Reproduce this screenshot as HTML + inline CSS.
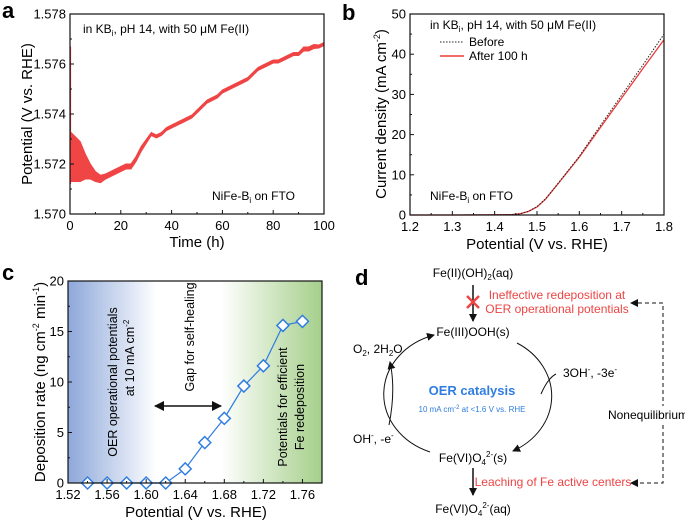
<!DOCTYPE html>
<html><head><meta charset="utf-8">
<style>
html,body{margin:0;padding:0;background:#fff;}
svg{display:block;font-family:"Liberation Sans",Arial,sans-serif;}
</style></head>
<body>
<svg id="fig" width="685" height="523" viewBox="0 0 685 523" xmlns="http://www.w3.org/2000/svg">
<defs>
  <linearGradient id="bg-c" x1="0" x2="1" y1="0" y2="0">
    <stop offset="0" stop-color="#8ea8da"/>
    <stop offset="0.35" stop-color="#ffffff"/>
    <stop offset="0.6" stop-color="#ffffff"/>
    <stop offset="1" stop-color="#a5cf8a"/>
  </linearGradient>
  <marker id="ah" markerWidth="8" markerHeight="8" refX="7" refY="4" orient="auto" markerUnits="userSpaceOnUse">
    <path d="M0,0 L8,4 L0,8 Z" fill="#111"/>
  </marker>
  <marker id="ahs" markerWidth="10" markerHeight="10" refX="9" refY="5" orient="auto-start-reverse" markerUnits="userSpaceOnUse">
    <path d="M0,0 L10,5 L0,10 Z" fill="#111"/>
  </marker>
</defs>
<g id="pa">
  <text x="2" y="18" font-size="22" font-weight="bold">a</text>
  <text x="197" y="247" font-size="15" text-anchor="middle">Time (h)</text>
  <text transform="translate(32,114) rotate(-90)" font-size="15" text-anchor="middle">Potential (V vs. RHE)</text>
  <text x="83" y="33" font-size="12">in KB<tspan font-size="8" dy="3">i</tspan><tspan dy="-3">, pH 14, with 50 μM Fe(II)</tspan></text>
  <text x="212" y="200" font-size="12">NiFe-B<tspan font-size="8" dy="3">i</tspan><tspan dy="-3"> on FTO</tspan></text>
</g>
<g id="pb">
  <text x="342" y="20" font-size="22" font-weight="bold">b</text>
  <text x="537" y="249" font-size="15" text-anchor="middle">Potential (V vs. RHE)</text>
  <text transform="translate(386,114) rotate(-90)" font-size="15" text-anchor="middle">Current density (mA cm<tspan font-size="9" dy="-6">-2</tspan><tspan dy="6">)</tspan></text>
  <text x="430" y="29" font-size="12">in KB<tspan font-size="8" dy="3">i</tspan><tspan dy="-3">, pH 14, with 50 μM Fe(II)</tspan></text>
  <line x1="440" x2="464" y1="42" y2="42" stroke="#222" stroke-dasharray="1.5,1.5"/>
  <text x="469" y="46" font-size="12">Before</text>
  <line x1="440" x2="464" y1="56" y2="56" stroke="#ee3a3a" stroke-width="1.5"/>
  <text x="469" y="60" font-size="12">After 100 h</text>
  <text x="430" y="200" font-size="12">NiFe-B<tspan font-size="8" dy="3">i</tspan><tspan dy="-3"> on FTO</tspan></text>
</g>
<g id="pc">
  <rect x="68" y="281" width="254" height="202" fill="url(#bg-c)"/>
  <text transform="translate(117,382) rotate(-90)" font-size="12.5" text-anchor="middle">OER operational potentials</text>
  <text transform="translate(134,358) rotate(-90)" font-size="12.5" text-anchor="middle">at 10 mA cm<tspan font-size="8" dy="-5">-2</tspan></text>
  <text transform="translate(194,337) rotate(-90)" font-size="12.5" text-anchor="middle">Gap for self-healing</text>
  <line x1="155" x2="221" y1="406" y2="406" stroke="#111" stroke-width="1.5" marker-start="url(#ahs)" marker-end="url(#ahs)"/>
  <text transform="translate(287,407) rotate(-90)" font-size="12.5" text-anchor="middle">Potentials for efficient</text>
  <text transform="translate(304,407) rotate(-90)" font-size="12.5" text-anchor="middle">Fe redeposition</text>
  <text x="2" y="280" font-size="22" font-weight="bold">c</text>
  <text x="196" y="517" font-size="15" text-anchor="middle">Potential (V vs. RHE)</text>
  <text transform="translate(45,382) rotate(-90)" font-size="15" text-anchor="middle">Deposition rate (ng cm<tspan font-size="9" dy="-6">-2</tspan><tspan dy="6"> min</tspan><tspan font-size="9" dy="-6">-1</tspan><tspan dy="6">)</tspan></text>
</g>
<g id="pd">
  <text x="355" y="285" font-size="22" font-weight="bold">d</text>
  <text x="473" y="277" font-size="12" text-anchor="middle">Fe(II)(OH)<tspan font-size="8" dy="3">2</tspan><tspan dy="-3">(aq)</tspan></text>
  <line x1="473" y1="285" x2="473" y2="321" stroke="#111" stroke-width="1.5" marker-end="url(#ah)"/>
  <g stroke="#ee4444" stroke-width="2.5">
    <line x1="467" y1="296" x2="479" y2="308"/><line x1="479" y1="296" x2="467" y2="308"/>
  </g>
  <text x="557" y="299" font-size="12" fill="#ee4444" text-anchor="middle">Ineffective redeposition at</text>
  <text x="557" y="313" font-size="12" fill="#ee4444" text-anchor="middle">OER operational potentials</text>
  <text x="473" y="336" font-size="12" text-anchor="middle">Fe(III)OOH(s)</text>
  <path d="M517,343 A72,62 0 0 1 513,451" fill="none" stroke="#111" stroke-width="1" marker-end="url(#ah)"/>
  <path d="M430,452 A72,62 0 0 1 434,335" fill="none" stroke="#111" stroke-width="1" marker-end="url(#ah)"/>
  <path d="M541,394 Q548,378 556,374" fill="none" stroke="#111" stroke-width="1"/>
  <text x="563" y="377" font-size="12">3OH<tspan font-size="8" dy="-5">-</tspan><tspan dy="5">, -3e</tspan><tspan font-size="8" dy="-5">-</tspan></text>
  <path d="M389,425 Q396,390 390,362" fill="none" stroke="#111" stroke-width="1" marker-end="url(#ah)"/>
  <text x="353" y="353" font-size="12">O<tspan font-size="8" dy="3">2</tspan><tspan dy="-3">, 2H</tspan><tspan font-size="8" dy="3">2</tspan><tspan dy="-3">O</tspan></text>
  <text x="353" y="443" font-size="12">OH<tspan font-size="8" dy="-5">-</tspan><tspan dy="5">, -e</tspan><tspan font-size="8" dy="-5">-</tspan></text>
  <text x="472" y="395" font-size="13" font-weight="bold" fill="#2f7de1" text-anchor="middle">OER catalysis</text>
  <text x="472" y="412" font-size="8" fill="#2f7de1" text-anchor="middle">10 mA cm<tspan font-size="6" dy="-3">-2</tspan><tspan dy="3"> at &lt;1.6 V vs. RHE</tspan></text>
  <text x="473" y="462" font-size="12" text-anchor="middle">Fe(VI)O<tspan font-size="8" dy="3">4</tspan><tspan font-size="8" dy="-8">2-</tspan><tspan dy="5">(s)</tspan></text>
  <line x1="473" y1="468" x2="473" y2="495" stroke="#111" stroke-width="1.5" marker-end="url(#ah)"/>
  <text x="553" y="486" font-size="12" fill="#ee4444" text-anchor="middle">Leaching of Fe active centers</text>
  <text x="473" y="513" font-size="12" text-anchor="middle">Fe(VI)O<tspan font-size="8" dy="3">4</tspan><tspan font-size="8" dy="-8">2-</tspan><tspan dy="5">(aq)</tspan></text>
  <g stroke="#111" stroke-width="1" stroke-dasharray="4,3" fill="none">
    <path d="M638,303 L663,303 L663,483 L638,483"/>
  </g>
  <path d="M638,299 L630,303 L638,307 Z M638,479 L630,483 L638,487 Z" fill="#111"/>
  <rect x="612" y="406" width="73" height="18" fill="#fff"/>
  <text x="648" y="419" font-size="12" text-anchor="middle">Nonequilibrium</text>
</g>
<script>
// ---------- Panel a data ----------
const aTime = [0,2,4,6,8,10,12,14,16,18,20,22,24,26,28,30,32,34,36,38,40,42,44,46,48,50,52,54,56,58,60,62,64,66,68,70,72,74,76,78,80,82,84,86,88,90,92,94,96,98,100];
const aPotential = [1.5723,1.5722,1.5721,1.5719,1.5717,1.5715,1.5714,1.5715,1.5716,1.5717,1.5718,1.5719,1.5719,1.5722,1.5726,1.5729,1.5732,1.5731,1.5732,1.5734,1.5735,1.5736,1.5737,1.5738,1.5739,1.5741,1.5743,1.5745,1.5746,1.5747,1.5749,1.5750,1.5751,1.5752,1.5753,1.5754,1.5756,1.5758,1.5759,1.5760,1.5761,1.5761,1.5762,1.5763,1.5764,1.5764,1.5766,1.5766,1.5767,1.5767,1.5768];
const aNoise = [0.0010,0.0009,0.0008,0.0005,0.0003,0.0002,0.00015,0.0001,0.0001,0.0001,0.0001,0.0001,0.0001,0.0001,0.0001,0.00008,0.00006,0.00006,0.00006,0.00006,0.00006,0.00006,0.00006,0.00006,0.00006,0.00006,0.00006,0.00006,0.00006,0.00006,0.00006,0.00006,0.00006,0.00006,0.00006,0.00006,0.00006,0.00006,0.00006,0.00006,0.00006,0.00006,0.00006,0.00006,0.00006,0.00006,0.00008,0.00008,0.00008,0.00006,0.00006];
const aXTicks = [0,20,40,60,80,100];
const aYTicks = [1.570,1.572,1.574,1.576,1.578];
// ---------- Panel b data ----------
const bPotential = [1.2,1.3,1.4,1.44,1.46,1.48,1.50,1.52,1.55,1.60,1.65,1.70,1.75,1.80];
const bBefore = [0,0,0.05,0.1,0.3,0.9,2.1,4.0,7.9,14.6,22.3,29.8,37.3,45.0];
const bAfter  = [0,0,0.05,0.1,0.3,0.9,2.0,3.9,7.8,14.4,21.8,29.1,36.4,43.6];
const bXTicks = [1.2,1.3,1.4,1.5,1.6,1.7,1.8];
const bYTicks = [0,10,20,30,40,50];
// ---------- Panel c data ----------
const cPotential = [1.54,1.56,1.58,1.60,1.62,1.64,1.66,1.68,1.70,1.72,1.74,1.76];
const cRate = [0,0,0,0,0,1.4,4.0,6.4,9.6,11.6,15.6,16.0];
const cXTicks = [1.52,1.56,1.60,1.64,1.68,1.72,1.76];
const cYTicks = [0,5,10,15,20];

const NS = "http://www.w3.org/2000/svg";
function mk(parent, tag, attrs, text){
  const e = document.createElementNS(NS, tag);
  for (const k in attrs) e.setAttribute(k, attrs[k]);
  if (text !== undefined) e.textContent = text;
  parent.appendChild(e);
  return e;
}
function lin(d0,d1,r0,r1){ return v => r0 + (v-d0)*(r1-r0)/(d1-d0); }

function axes(g, X, Y, x0,x1,y0,y1, xt, yt, xfmt, yfmt, minorX, minorY){
  for (const v of xt){
    const px = X(v);
    const t = mk(g,'line',{x1:px,x2:px,y1:y1,y2:y1-4,stroke:'#111','stroke-width':1});
    
    
    const l = mk(g,'text',{x:px,y:y1+16,'font-size':13,'text-anchor':'middle'}, xfmt(v));
    
    
  }
  for (const v of minorX){
    const px = X(v);
    const t = mk(g,'line',{x1:px,x2:px,y1:y1,y2:y1-2,stroke:'#111','stroke-width':1});
    
    
  }
  for (const v of yt){
    const py = Y(v);
    const t = mk(g,'line',{x1:x0,x2:x0+4,y1:py,y2:py,stroke:'#111','stroke-width':1});
    
    
    const l = mk(g,'text',{x:x0-4,y:py+4.5,'font-size':13,'text-anchor':'end'}, yfmt(v));
    
    
  }
  for (const v of minorY){
    const py = Y(v);
    const t = mk(g,'line',{x1:x0,x2:x0+2,y1:py,y2:py,stroke:'#111','stroke-width':1});
    
    
  }
  const box = mk(g,'rect',{x:x0,y:y0,width:x1-x0,height:y1-y0,fill:'none',stroke:'#111','stroke-width':1.2});
  
  
}

// ===== Panel a =====
(function(){
  const g = document.getElementById('pa');
  const x0=70,x1=324,y0=14,y1=214;
  const X = lin(0,100,x0,x1), Y = lin(1.570,1.578,y1,y0);
  let up = aTime.map((t,i)=>X(t)+','+Y(aPotential[i]+aNoise[i]));
  let dn = aTime.map((t,i)=>X(t)+','+Y(aPotential[i]-aNoise[i])).reverse();
  const band = mk(g,'polygon',{points:up.concat(dn).join(' '),fill:'#f04545',stroke:'#f04545','stroke-width':1});
  
  
  const line = mk(g,'polyline',{points:aTime.map((t,i)=>X(t)+','+Y(aPotential[i])).join(' '),fill:'none',stroke:'#f04545','stroke-width':1.2});
  
  
  const spike = mk(g,'line',{x1:X(0)+0.5,x2:X(0)+0.5,y1:Y(1.5712),y2:Y(1.5767),stroke:'#f04545','stroke-width':1.2});
  
  
  axes(g,X,Y,x0,x1,y0,y1,aXTicks,aYTicks,v=>String(v),v=>v.toFixed(3),[10,30,50,70,90],[1.571,1.573,1.575,1.577]);
})();

// ===== Panel b =====
(function(){
  const g = document.getElementById('pb');
  const x0=410,x1=664,y0=14,y1=215;
  const X = lin(1.2,1.8,x0,x1), Y = lin(0,50,y1,y0);
  const after = mk(g,'polyline',{points:bPotential.map((p,i)=>X(p)+','+Y(bAfter[i])).join(' '),fill:'none',stroke:'#ee3a3a','stroke-width':1.3});
  
  
  const before = mk(g,'polyline',{points:bPotential.map((p,i)=>X(p)+','+Y(bBefore[i])).join(' '),fill:'none',stroke:'#222','stroke-width':1,'stroke-dasharray':'1.5,1.5'});
  
  
  axes(g,X,Y,x0,x1,y0,y1,bXTicks,bYTicks,v=>v.toFixed(1),v=>String(v),[1.25,1.35,1.45,1.55,1.65,1.75],[5,15,25,35,45]);
})();

// ===== Panel c =====
(function(){
  const g = document.getElementById('pc');
  const x0=68,x1=322,y0=281,y1=483;
  const X = lin(1.52,1.78,x0,x1), Y = lin(0,20,y1,y0);
  const ln = mk(g,'polyline',{points:cPotential.map((p,i)=>X(p)+','+Y(cRate[i])).join(' '),fill:'none',stroke:'#2f7de1','stroke-width':1.2});
  
  
  cPotential.forEach((p,i)=>{
    const cx=X(p), cy=Y(cRate[i]);
    const m = mk(g,'path',{d:`M${cx},${cy-6} L${cx+6},${cy} L${cx},${cy+6} L${cx-6},${cy} Z`,fill:'#fff',stroke:'#2f7de1','stroke-width':1.5});
    
    
  });
  axes(g,X,Y,x0,x1,y0,y1,cXTicks,cYTicks,v=>v.toFixed(2),v=>String(v),[1.54,1.58,1.62,1.66,1.70,1.74,1.78],[2.5,7.5,12.5,17.5]);
})();
</script>
</svg>
</body></html>
